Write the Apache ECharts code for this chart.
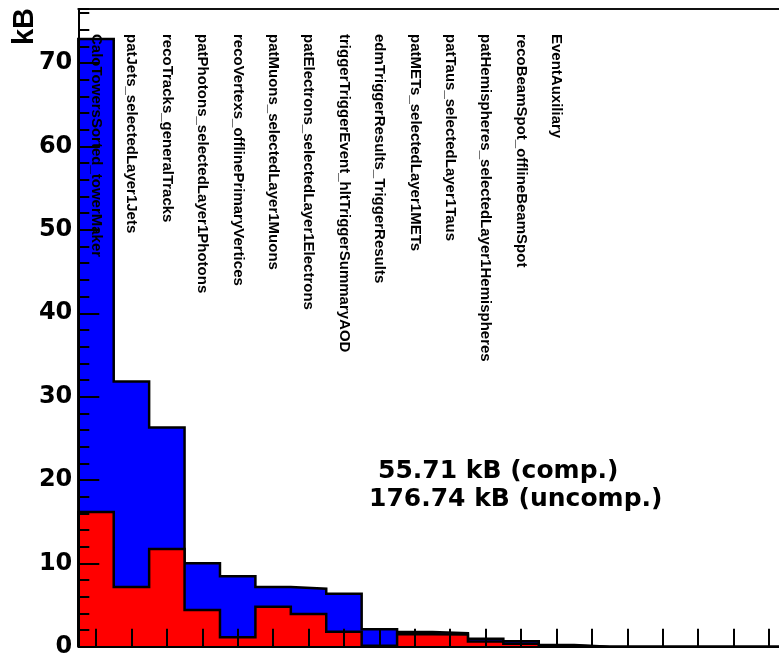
<!DOCTYPE html>
<html>
<head>
<meta charset="utf-8">
<script src="https://cdn.jsdelivr.net/npm/echarts@6/dist/echarts.min.js"></script>
<style>
html,body{margin:0;padding:0;background:#fff;}
#chart{width:779px;height:657px;}
</style>
</head>
<body>
<div id="chart"></div>
<script>
// Branch names (one per bin; last bins are empty)
const categories = [
  'CaloTowersSorted_towerMaker',
  'patJets_selectedLayer1Jets',
  'recoTracks_generalTracks',
  'patPhotons_selectedLayer1Photons',
  'recoVertexs_offlinePrimaryVertices',
  'patMuons_selectedLayer1Muons',
  'patElectrons_selectedLayer1Electrons',
  'triggerTriggerEvent_hltTriggerSummaryAOD',
  'edmTriggerResults_TriggerResults',
  'patMETs_selectedLayer1METs',
  'patTaus_selectedLayer1Taus',
  'patHemispheres_selectedLayer1Hemispheres',
  'recoBeamSpot_offlineBeamSpot',
  'EventAuxiliary',
  '', '', '', '', '', ''
];
// Uncompressed size per branch (kB)
const uncompressed = [72.9, 31.8, 26.3, 10.0, 8.45, 7.16, 6.96, 6.36, 2.1, 1.75, 1.62, 0.96, 0.65, 0.2, 0, 0, 0, 0, 0, 0];
// Compressed size per branch (kB)
const compressed = [16.16, 7.16, 11.72, 4.4, 1.13, 4.8, 3.92, 1.8, 0.1, 1.5, 1.45, 0.62, 0.35, 0.1, 0, 0, 0, 0, 0, 0];
const totalLabels = ['55.71 kB (comp.)', '176.74 kB (uncomp.)'];
const yTicks = [0, 10, 20, 30, 40, 50, 60, 70];
const yMax = 76.5;

// histogram outline points: bin edges, step at the end of each bin
function histPoints(vals) {
  const pts = [[0, 0]];
  for (let i = 0; i < vals.length; i++) pts.push([i, vals[i]]);
  pts.push([vals.length, vals[vals.length - 1]]);
  pts.push([vals.length, 0]);
  return pts;
}

const chart = echarts.init(document.getElementById('chart'));
const axisColor = '#000';
chart.setOption({
  animation: false,
  backgroundColor: '#fff',
  grid: { left: 78.3, top: 9, right: -7.7, bottom: 10.3, outerBoundsMode: 'none', containLabel: false },
  xAxis: [
    { // value axis used by the histogram series
      type: 'value', min: 0, max: categories.length, position: 'bottom',
      show: false
    },
    { // bottom axis: ticks at bin centers
      type: 'category', data: categories, position: 'bottom', boundaryGap: true, z: 10,
      axisLine: { show: true, onZero: false, lineStyle: { color: axisColor, width: 2 } },
      axisTick: { show: true, inside: true, alignWithLabel: true, interval: 0, length: 18, lineStyle: { color: axisColor, width: 2 } },
      axisLabel: { show: false, interval: 0 },
      splitLine: { show: false }
    },
    { // top axis: branch names
      type: 'category', data: categories, position: 'top', boundaryGap: true, z: 10,
      axisLine: { show: true, onZero: false, lineStyle: { color: '#111', width: 2 } },
      axisTick: { show: false },
      axisLabel: {
        show: true, inside: true, rotate: 90, margin: 25, interval: 0,
        fontFamily: 'Liberation Sans', fontWeight: 'bold', fontSize: 15, color: '#000'
      },
      splitLine: { show: false }
    }
  ],
  yAxis: [
    {
      type: 'value', min: 0, max: yMax, interval: 10, position: 'left', z: 10,
      axisLine: { show: true, onZero: false, lineStyle: { color: axisColor, width: 2 } },
      axisTick: { show: true, inside: true, length: 21, lineStyle: { color: axisColor, width: 2 } },
      axisLabel: {
        show: true, margin: 6, showMaxLabel: false,
        fontFamily: 'DejaVu Sans', fontWeight: 'bold', fontSize: 24, color: '#000',
        formatter: v => (yTicks.indexOf(v) >= 0 ? String(v) : '')
      },
      splitLine: { show: false }
    },
    { // minor ticks
      type: 'value', min: 0, max: yMax, interval: 2, position: 'left', z: 10,
      axisLine: { show: false },
      axisTick: { show: true, inside: true, length: 11, lineStyle: { color: axisColor, width: 2 } },
      axisLabel: { show: false },
      splitLine: { show: false }
    }
  ],
  series: [
    {
      name: 'uncompressed', type: 'line', xAxisIndex: 0, yAxisIndex: 0,
      step: 'end', symbol: 'none', z: 2,
      data: histPoints(uncompressed),
      lineStyle: { color: '#000', width: 2.5, join: 'miter' },
      areaStyle: { color: '#0000ff', opacity: 1 }
    },
    {
      name: 'compressed', type: 'line', xAxisIndex: 0, yAxisIndex: 0,
      step: 'end', symbol: 'none', z: 3,
      data: histPoints(compressed),
      lineStyle: { color: '#000', width: 2.5, join: 'miter' },
      areaStyle: { color: '#ff0000', opacity: 1 }
    }
  ],
  graphic: [
    {
      type: 'text', x: 25, y: 26.5, rotation: Math.PI / 2, z: 20,
      style: { text: 'kB', font: 'bold 29px "Liberation Sans"', fill: '#000', textAlign: 'center', textVerticalAlign: 'middle' }
    },
    {
      type: 'text', x: 378, y: 471.5, z: 20,
      style: { text: totalLabels[0], font: 'bold 25px "DejaVu Sans"', fill: '#000', textAlign: 'left', textVerticalAlign: 'middle' }
    },
    {
      type: 'text', x: 369, y: 499.8, z: 20,
      style: { text: totalLabels[1], font: 'bold 25px "DejaVu Sans"', fill: '#000', textAlign: 'left', textVerticalAlign: 'middle' }
    }
  ]
});
</script>
</body>
</html>
